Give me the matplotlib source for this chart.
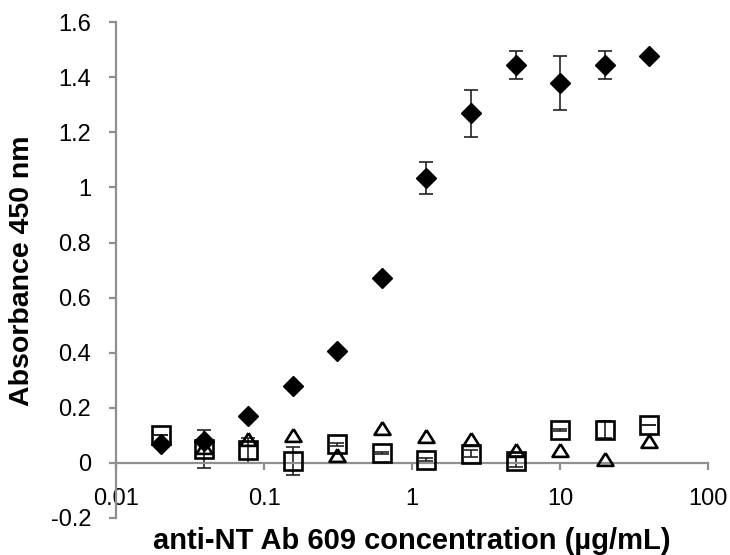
import matplotlib
matplotlib.use("Agg")
import matplotlib.pyplot as plt
import numpy as np

# Data
conc = [0.02, 0.039, 0.078, 0.156, 0.3125, 0.625, 1.25, 2.5, 5, 10, 20, 40]

diamond_y = [0.067, 0.08, 0.172, 0.28, 0.405, 0.67, 1.035, 1.27, 1.445, 1.378, 1.445, 1.476]
diamond_err = [0.0, 0.0, 0.0, 0.0, 0.008, 0.005, 0.058, 0.085, 0.05, 0.098, 0.05, 0.005]

square_y = [0.103, 0.05, 0.046, 0.006, 0.067, 0.036, 0.012, 0.034, 0.006, 0.119, 0.121, 0.139]
square_err = [0.0, 0.07, 0.046, 0.05, 0.006, 0.005, 0.005, 0.012, 0.02, 0.004, 0.03, 0.0]

triangle_y = [np.nan, 0.058, 0.085, 0.103, 0.027, 0.127, 0.097, 0.085, 0.048, 0.046, 0.015, 0.079]

yticks = [-0.2, 0, 0.2, 0.4, 0.6, 0.8, 1, 1.2, 1.4, 1.6]
ytick_labels = ["-0.2", "0", "0.2", "0.4", "0.6", "0.8", "1", "1.2", "1.4", "1.6"]
xticks = [0.01, 0.1, 1, 10, 100]
xtick_labels = ["0.01", "0.1", "1", "10", "100"]

plt.rcParams['font.family'] = ['Liberation Sans', 'DejaVu Sans']

fig = plt.figure(figsize=(7.3, 5.55), dpi=100)
ax = fig.add_axes([0.159, 0.0667, 0.811, 0.8933])

axis_gray = '#8f8f8f'

# squares (open)
ax.errorbar(conc, square_y, yerr=square_err, fmt='none', ecolor='#222222',
            elinewidth=1.2, capsize=5, capthick=1.2, zorder=2)
ax.plot(conc, square_y, linestyle='none', marker='s', markersize=13.5,
        markerfacecolor='none', markeredgecolor='black', markeredgewidth=1.9, zorder=3)

# triangles (open)
ax.plot(conc, triangle_y, linestyle='none',
        marker=[(0, 0.8), (-1, -0.8), (1, -0.8), (0, 0.8)], markersize=11.5,
        markerfacecolor='none', markeredgecolor='black', markeredgewidth=1.9, zorder=4)

# diamonds (filled)
ax.errorbar(conc, diamond_y, yerr=diamond_err, fmt='none', ecolor='#222222',
            elinewidth=1.2, capsize=5, capthick=1.2, zorder=4)
ax.plot(conc, diamond_y, linestyle='none', marker='D', markersize=9.8,
        markerfacecolor='black', markeredgecolor='black', zorder=5)

ax.set_xscale('log')
ax.set_xlim(0.01, 100)
ax.set_ylim(-0.2, 1.6)

ax.spines['top'].set_visible(False)
ax.spines['right'].set_visible(False)
ax.spines['bottom'].set_position(('data', 0))
for s in ['left', 'bottom']:
    ax.spines[s].set_color(axis_gray)
    ax.spines[s].set_linewidth(1.6)

ax.set_yticks(yticks)
ax.set_yticklabels(ytick_labels)
ax.set_xticks(xticks)
ax.set_xticklabels(xtick_labels)
ax.xaxis.set_minor_locator(matplotlib.ticker.NullLocator())

ax.tick_params(axis='both', direction='out', length=5, width=1.6, color=axis_gray,
               labelsize=17, labelcolor='black')
ax.tick_params(axis='x', pad=13)
ax.tick_params(axis='y', pad=13)

fig.text(0.564, 0.025, 'anti-NT Ab 609 concentration (\u00b5g/mL)', ha='center', va='center',
         fontsize=21, fontweight='bold')
fig.text(0.030, 0.512, 'Absorbance 450 nm', ha='center', va='center', rotation=90,
         fontsize=20.5, fontweight='bold')

fig.savefig('out.png', dpi=100)
